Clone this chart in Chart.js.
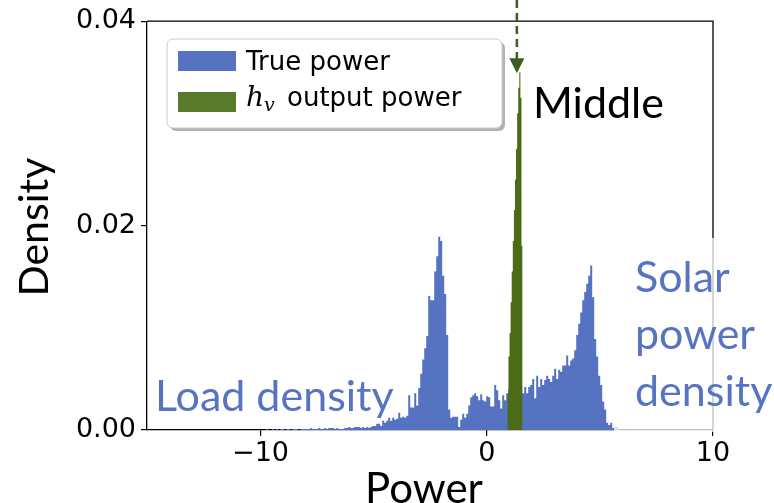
<!DOCTYPE html>
<html>
<head>
<meta charset="utf-8">
<script src="https://cdn.jsdelivr.net/npm/chart.js@4.4.0/dist/chart.umd.min.js"></script>
<style>
html, body { margin: 0; padding: 0; background: #fff; }
</style>
</head>
<body>
<canvas id="chart" width="774" height="503"></canvas>
<script>
// true power histogram (density), equal-width bins
const trueBinStart = -9.926;
const trueBinWidth = 0.0884;
const truePowerDensity = [
    0, 0, 0.0001, 0, 0, 0.0001, 0, 0.0001, 0, 0.0001, 0.0001, 0, 0.0001, 0.0001, 0, 0.0001, 0.0001,
    0.0001, 0, 0.0001, 0.0001, 0.0001, 0.0001, 0.0001, 0.0002, 0.0001, 0.0001, 0.0001, 0.0002, 0.0001,
    0.0001, 0.0002, 0.0001, 0.0002,
    0.0002, 0.0002, 0.0001, 0.0002, 0.0001, 0.0001, 0.0001, 0.0002, 0.0002, 0.0003, 0.0002, 0.0002,
    0.0003, 0.0003, 0.0003, 0.0002, 0.0003, 0.0002, 0.0003, 0.0002, 0.0003, 0.0004,
    0.0004, 0.0006, 0.0006, 0.0004, 0.0009, 0.0007, 0.0009, 0.0012,
    0.0009, 0.0012, 0.0010, 0.0011, 0.0017, 0.0012, 0.0013, 0.0012, 0.0014,
    0.0034, 0.0022, 0.0022, 0.0036, 0.0024, 0.0041, 0.0055, 0.0069, 0.0080, 0.0092,
    0.0131, 0.0127, 0.0127, 0.0155, 0.0170, 0.0189, 0.0185, 0.0151, 0.0133, 0.0093,
    0.0020, 0.0012, 0.0013, 0.0013, 0.0013, 0.0003, 0.0010, 0.0016, 0.0012, 0.0016,
    0.0024, 0.0032, 0.0034, 0.0036, 0.0033, 0.0029, 0.0035, 0.0029, 0.0028, 0.0033,
    0.0032, 0.0023, 0.0023, 0.0044, 0.0039, 0.0029, 0.0021, 0.0034, 0.0029,
    0.0036, 0.0040, 0.0042, 0.0040, 0.0045, 0.0043, 0.0040,
    0.0044, 0.0036, 0.0042, 0.0036, 0.0042, 0.0044, 0.0050, 0.0031, 0.0053, 0.0042,
    0.0050, 0.0044, 0.0049, 0.0053, 0.0050, 0.0047, 0.0053, 0.0060, 0.0050, 0.0059,
    0.0057, 0.0063, 0.0063, 0.0073, 0.0063, 0.0068, 0.0070, 0.0078, 0.0093, 0.0104,
    0.0115, 0.0127, 0.0135, 0.0143, 0.0151, 0.0161, 0.0130, 0.0089, 0.0072, 0.0053,
    0.0044, 0.0028, 0.0020, 0.0007, 0.0005, 0.0007, 0.0002, 0.0003, 0.0003
];

// h_v output power histogram (density)
const hvBinStart = 0.91;
const hvBinWidth = 0.048;
const hvPowerDensity = [
    0.0035, 0.0072, 0.0095, 0.0125, 0.0155, 0.0185, 0.0215,
    0.0245, 0.0275, 0.0310, 0.0335, 0.0350, 0.0325, 0.0180
];

const xRange = [-15.02, 10];
const yRange = [0, 0.04];
const xTicks = [-10, 0, 10];
const yTicks = [0, 0.02, 0.04];

const seriesLabels = ['True power', 'output power'];
const middleLabel = 'Middle';
const loadLabel = 'Load density';
const solarLabel = ['Solar', 'power', 'density'];
const arrowX = 1.33;
const arrowTip = 0.0349;

const blue = '#5573c1';
const green = '#4c6b16';
const textBlue = '#5774c3';

const toSteps = (start, width, values) => {
    const pts = values.map((v, i) => ({ x: start + i * width, y: v }));
    pts.push({ x: start + values.length * width, y: 0 });
    return pts;
};

const annotate = {
    id: 'annotate',
    afterDraw(chart) {
        const { ctx, chartArea: a, scales } = chart;
        ctx.save();

        // top and right spines
        ctx.strokeStyle = '#000';
        ctx.lineWidth = 1.3;
        ctx.beginPath();
        ctx.moveTo(a.left, a.top);
        ctx.lineTo(a.right, a.top);
        ctx.lineTo(a.right, a.bottom);
        ctx.stroke();

        // axis titles
        ctx.fillStyle = '#000';
        ctx.font = '42px Lato';
        ctx.textAlign = 'center';
        ctx.textBaseline = 'alphabetic';
        ctx.fillText('Power', 424, 503);
        ctx.save();
        ctx.translate(48, 227);
        ctx.rotate(-Math.PI / 2);
        ctx.font = '41px Lato';
        ctx.fillText('Density', 0, 0);
        ctx.restore();

        // white box behind solar text
        ctx.fillStyle = 'rgba(255,255,255,0.75)';
        ctx.fillRect(614, 238, 160, 194);

        ctx.textAlign = 'left';
        ctx.fillStyle = textBlue;
        ctx.font = '43px Lato';
        solarLabel.forEach((t, i) => ctx.fillText(t, 635, 292 + i * 57));
        ctx.fillText(loadLabel, 155, 411);

        ctx.fillStyle = '#000';
        ctx.font = '43px Lato';
        ctx.fillText(middleLabel, 533, 118);

        // dashed arrow to the h_v peak
        const ax = scales.x.getPixelForValue(arrowX);
        const ay = scales.y.getPixelForValue(arrowTip);
        ctx.strokeStyle = '#3d5c20';
        ctx.fillStyle = '#3d5c20';
        ctx.lineWidth = 2.5;
        ctx.setLineDash([8, 5]);
        ctx.beginPath();
        ctx.moveTo(ax, 0);
        ctx.lineTo(ax, ay - 14);
        ctx.stroke();
        ctx.setLineDash([]);
        ctx.beginPath();
        ctx.moveTo(ax - 7.5, ay - 15);
        ctx.lineTo(ax + 7.5, ay - 15);
        ctx.lineTo(ax, ay);
        ctx.closePath();
        ctx.fill();

        // legend
        const lx = 167, ly = 39, lw = 335, lh = 89, r = 6;
        const rounded = (x, y) => {
            ctx.beginPath();
            ctx.roundRect(x, y, lw, lh, r);
        };
        ctx.fillStyle = 'rgba(0,0,0,0.3)';
        rounded(lx + 3, ly + 3);
        ctx.fill();
        ctx.fillStyle = '#fff';
        ctx.strokeStyle = '#cccccc';
        ctx.lineWidth = 1;
        rounded(lx, ly);
        ctx.fill();
        ctx.stroke();

        ctx.fillStyle = blue;
        ctx.fillRect(178, 51, 58, 20);
        ctx.fillStyle = '#5a7a2b';
        ctx.fillRect(178, 92, 58, 20);

        ctx.fillStyle = '#000';
        ctx.font = '26px "DejaVu Sans"';
        ctx.fillText(seriesLabels[0], 246, 70);
        ctx.font = 'italic 28px "DejaVu Serif"';
        ctx.fillText('h', 246, 106);
        ctx.font = 'italic 19px "DejaVu Serif"';
        ctx.fillText('v', 264, 111);
        ctx.font = '26px "DejaVu Sans"';
        ctx.fillText(seriesLabels[1], 287, 106);

        ctx.restore();
    }
};

new Chart(document.getElementById('chart'), {
    type: 'line',
    data: {
        datasets: [
            {
                label: seriesLabels[0],
                data: toSteps(trueBinStart, trueBinWidth, truePowerDensity),
                stepped: true,
                fill: 'origin',
                backgroundColor: blue,
                borderColor: 'rgba(0,0,0,0)',
                borderWidth: 0,
                pointRadius: 0,
                order: 2,
            },
            {
                label: seriesLabels[1],
                data: toSteps(hvBinStart, hvBinWidth, hvPowerDensity),
                stepped: true,
                fill: 'origin',
                backgroundColor: green,
                borderColor: 'rgba(0,0,0,0)',
                borderWidth: 0,
                pointRadius: 0,
                order: 1,
            },
        ],
    },
    options: {
        responsive: false,
        animation: false,
        devicePixelRatio: 1,
        layout: { padding: { left: 0, top: 20, right: 61, bottom: 0 } },
        plugins: { legend: { display: false }, tooltip: { enabled: false } },
        scales: {
            x: {
                type: 'linear',
                min: xRange[0],
                max: xRange[1],
                z: 1,
                afterBuildTicks: (s) => { s.ticks = xTicks.map((v) => ({ value: v })); },
                afterFit: (s) => { s.height = 73; },
                ticks: {
                    color: '#000',
                    font: { family: 'DejaVu Sans', size: 27 },
                    padding: 2,
                    maxRotation: 0,
                    callback: (v) => (v < 0 ? '\u2212' + Math.abs(v) : String(v)),
                },
                grid: { drawOnChartArea: false, color: '#000', tickLength: 6, lineWidth: 1.2 },
                border: { color: '#000', width: 1.3 },
            },
            y: {
                min: yRange[0],
                max: yRange[1],
                z: 1,
                afterBuildTicks: (s) => { s.ticks = yTicks.map((v) => ({ value: v })); },
                afterFit: (s) => { s.width = 147; },
                ticks: {
                    color: '#000',
                    font: { family: 'DejaVu Sans', size: 27 },
                    padding: 5,
                    callback: (v) => v.toFixed(2),
                },
                grid: { drawOnChartArea: false, color: '#000', tickLength: 6, lineWidth: 1.2 },
                border: { color: '#000', width: 1.3 },
            },
        },
    },
    plugins: [annotate],
});
</script>
</body>
</html>
